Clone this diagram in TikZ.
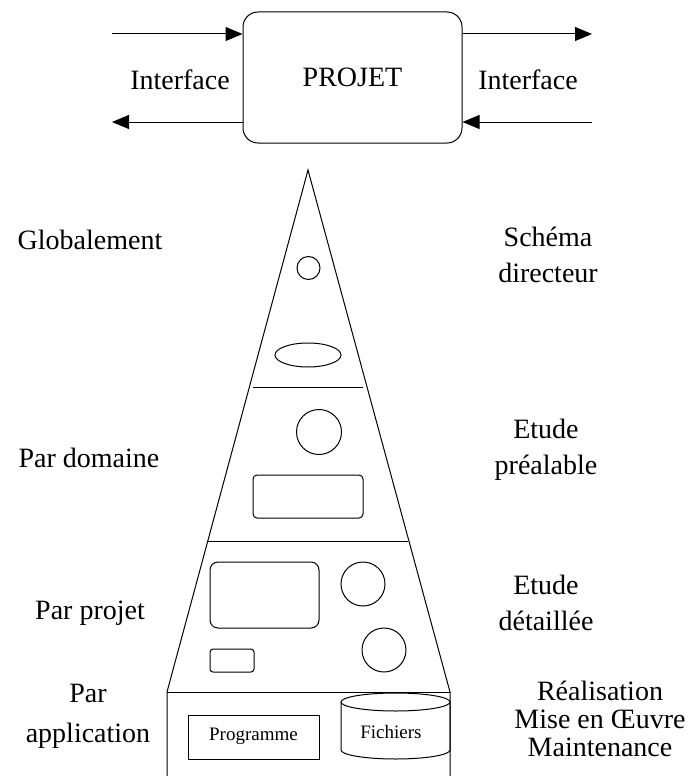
\documentclass[tikz,border=0pt]{standalone}
\usepackage{fontspec}
\setmainfont{Liberation Serif}
\usetikzlibrary{arrows.meta,positioning}

\begin{document}
\begin{tikzpicture}[x=1pt,y=-1pt,>={Triangle[length=17pt,width=14pt]}, line width=1pt,
    every node/.style={font=\fontsize{28}{36}\selectfont, inner sep=0pt}]
    % Styles
    \tikzset{projbox/.style ={draw,rounded corners=15pt,minimum width=219pt,minimum height=131pt}}
    \tikzset{label/.style   ={align=center,anchor=base}}
    \tikzset{small/.style   ={font=\fontsize{19}{22}\selectfont,anchor=base}}
    \tikzset{blob/.style    ={draw,rounded corners=4pt}}

    \useasboundingbox (0,0) rectangle (688,776);

    % Project box and interfaces
    \node[projbox] (proj) at (352.5,77.5) {PROJET};
    \coordinate (inL)  at (112,34);
    \coordinate (outL) at (112,122);
    \coordinate (outR) at (592,34);
    \coordinate (inR)  at (592,122);
    \draw[->] (inL) -- (inL -| proj.west);
    \draw[->] (outL -| proj.west) -- (outL);
    \draw[->] (outR -| proj.east) -- (outR);
    \draw[->] (inR) -- (inR -| proj.east);
    \node[label] (ifL) at (180,89) {Interface};
    \node[label] (ifR) at (528,89) {Interface};

    % Pyramid
    \draw (167,776) -- (167,692) -- (308,170) -- (450,692) -- (450,776);
    \draw (167,692) -- (450,692);
    \draw (253,387) -- (363,387);
    \draw (208,541) -- (408,541);

    % Level 1
    \draw (308.5,268) circle[radius=11.5];
    \draw (308,355) ellipse[x radius=33,y radius=12];

    % Level 2
    \draw (319,432) circle[radius=22.5];
    \draw[blob] (253,475) rectangle (363,518);

    % Level 3
    \draw[blob,rounded corners=8pt] (210,562) rectangle (319,628);
    \draw (363,584) circle[radius=22];
    \draw (384,650) circle[radius=22];
    \draw[blob,rounded corners=3pt] (210,649) rectangle (254,672);

    % Level 4
    \draw (188,715) rectangle (319,759);
    \node[small] (prog) at (253.5,740) {Programme};
    \draw (395.5,702) ellipse[x radius=54.5,y radius=9];
    \draw (341,702) -- (341,750) arc[start angle=180,end angle=0,x radius=54.5,y radius=9] -- (450,702);
    \node[small] (fich) at (391,738) {Fichiers};

    % Left labels (base = last line)
    \node[label] (glob) at (90,249) {Globalement};
    \node[label] (dom)  at (89,467) {Par domaine};
    \node[label] (pro)  at (90,619) {Par projet};
    \node[label,font=\fontsize{28}{40}\selectfont] (app) at (88,742) {Par\\application};

    % Right labels (base = last line)
    \node[label] (sdir) at (548,282) {Schéma\\directeur};
    \node[label] (epre) at (546,474) {Etude\\préalable};
    \node[label] (edet) at (546,630) {Etude\\détaillée};
    \node[label,font=\fontsize{28}{28}\selectfont] (real) at (600,756) {Réalisation\\Mise en Œuvre\\Maintenance};
\end{tikzpicture}
\end{document}
